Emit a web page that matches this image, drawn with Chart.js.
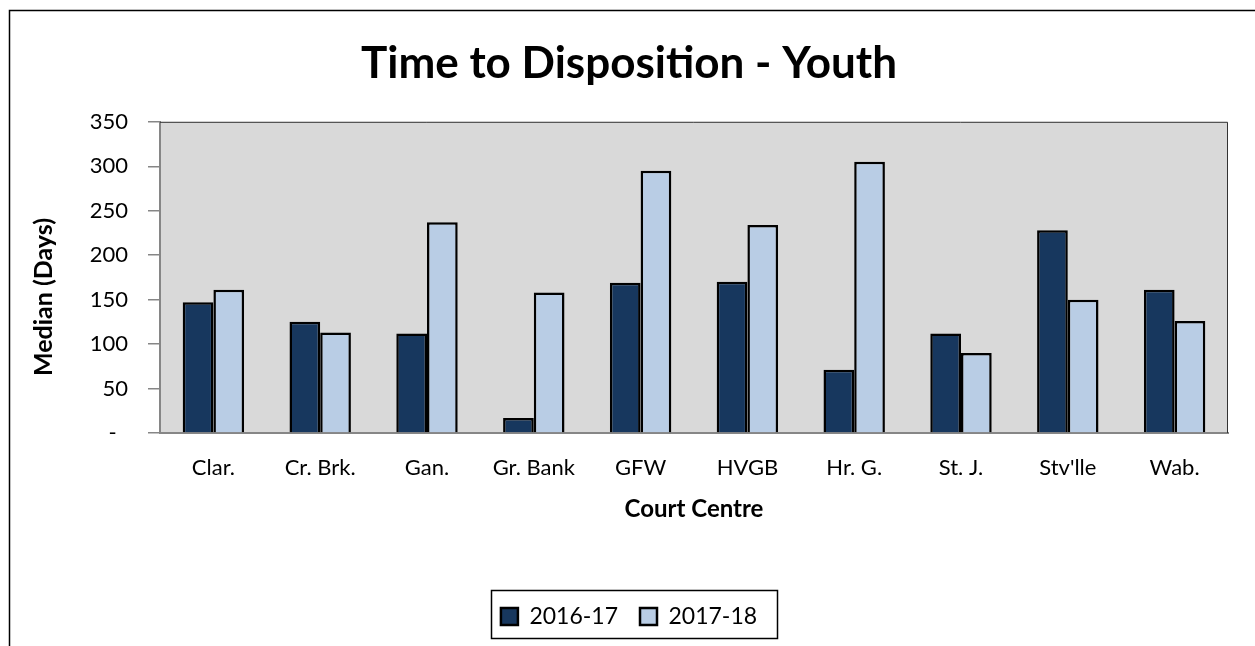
<!DOCTYPE html>
<html lang="en">
<head>
  <meta charset="UTF-8" />
  <title>Time to Disposition - Youth</title>
  <script src="https://cdn.jsdelivr.net/npm/chart.js"></script>
  <style>
    html, body { margin: 0; padding: 0; background: #fff; }
    #wrap { width: 1255px; height: 646px; }
  </style>
</head>
<body>
  <div id="wrap"><canvas id="chart" width="1255" height="646"></canvas></div>
  <script>
    const courts = ['Clar.', 'Cr. Brk.', 'Gan.', 'Gr. Bank', 'GFW', 'HVGB', 'Hr. G.', 'St. J.', "Stv'lle", 'Wab.'];
    const year1617 = [147, 125, 112, 17, 169, 170, 71, 112, 228, 161];
    const year1718 = [161, 113, 237, 158, 295, 234, 305, 90, 150, 126];
    const yTicks = [0, 50, 100, 150, 200, 250, 300, 350];

    Chart.defaults.font.family = 'Lato, "Open Sans", sans-serif';
    Chart.defaults.color = '#000';

    // plot background, outer frame, legend box, y title
    const decor = {
      id: 'decor',
      beforeDraw(chart) {
        const ctx = chart.ctx, a = chart.chartArea;
        ctx.save();
        ctx.fillStyle = '#d9d9d9';
        ctx.fillRect(a.left, a.top, a.right - a.left, a.bottom - a.top);
        // outer frame (cropped on right/bottom)
        ctx.strokeStyle = '#000';
        ctx.lineWidth = 1.5;
        ctx.beginPath();
        ctx.moveTo(9.5, 646);
        ctx.lineTo(9.5, 10.5);
        ctx.lineTo(1255, 10.5);
        ctx.stroke();
        ctx.restore();
      },
      beforeDatasetsDraw(chart) {
        const ctx = chart.ctx, a = chart.chartArea;
        ctx.save();
        ctx.strokeStyle = '#333';
        ctx.lineWidth = 1;
        ctx.beginPath();
        ctx.moveTo(a.left, a.top + 0.5);
        ctx.lineTo(a.right - 0.5, a.top + 0.5);
        ctx.lineTo(a.right - 0.5, a.bottom);
        ctx.stroke();
        ctx.restore();
      },
      afterDraw(chart) {
        const ctx = chart.ctx;
        ctx.save();
        // y axis title
        ctx.translate(44, 297);
        ctx.rotate(-Math.PI / 2);
        ctx.font = 'bold 25px Lato, "Open Sans", sans-serif';
        ctx.textAlign = 'center';
        ctx.textBaseline = 'middle';
        ctx.fillStyle = '#000';
        ctx.fillText('Median (Days)', 0, 0);
        ctx.restore();
        // legend border
        const hb = chart.legend.legendHitBoxes;
        if (hb && hb.length) {
          const l = Math.min(...hb.map(h => h.left)) - 10;
          const r = Math.max(...hb.map(h => h.left + h.width)) + 20;
          const t = hb[0].top - 15;
          const b = hb[0].top + 33;
          ctx.save();
          ctx.strokeStyle = '#000';
          ctx.lineWidth = 1.5;
          ctx.strokeRect(Math.round(l) + 0.5, Math.round(t) + 0.5, Math.round(r - l), Math.round(b - t));
          ctx.restore();
        }
      }
    };

    new Chart(document.getElementById('chart').getContext('2d'), {
      type: 'bar',
      data: {
        labels: courts,
        datasets: [
          { label: '2016-17', data: year1617, backgroundColor: '#17375e', borderColor: '#000', borderWidth: 2.5 },
          { label: '2017-18', data: year1718, backgroundColor: '#b9cde5', borderColor: '#000', borderWidth: 2.5 }
        ]
      },
      options: {
        responsive: false,
        animation: false,
        categoryPercentage: 0.575,
        barPercentage: 1,
        layout: { padding: { left: 30, right: 27, top: 10, bottom: 8 } },
        plugins: {
          title: {
            display: true,
            text: 'Time to Disposition - Youth',
            font: { size: 44, weight: 'bold' },
            color: '#000',
            padding: { top: 27, bottom: 32 }
          },
          legend: {
            position: 'bottom',
            labels: { font: { size: 23 }, boxWidth: 17, boxHeight: 17, padding: 22, color: '#000' }
          },
          tooltip: { enabled: false }
        },
        scales: {
          x: {
            grid: { display: false, drawTicks: false },
            border: { color: '#868686', width: 2 },
            ticks: { font: { size: 22 }, padding: 22, maxRotation: 0 },
            title: { display: true, text: 'Court Centre', font: { size: 24, weight: 'bold' }, padding: { top: 0, bottom: 59 } },
            afterFit(s) { s.height = 150; }
          },
          y: {
            min: 0,
            max: 350,
            afterBuildTicks(s) { s.ticks = yTicks.map(v => ({ value: v })); },
            grid: { drawOnChartArea: false, drawTicks: true, tickLength: 12, color: '#868686', lineWidth: 1.5 },
            border: { color: '#868686', width: 2 },
            ticks: {
              font: { size: 22 },
              padding: 20,
              callback: v => v === 0 ? '-  ' : v
            },
            afterFit(s) { s.width = 130; }
          }
        }
      },
      plugins: [decor]
    });
  </script>
</body>
</html>
